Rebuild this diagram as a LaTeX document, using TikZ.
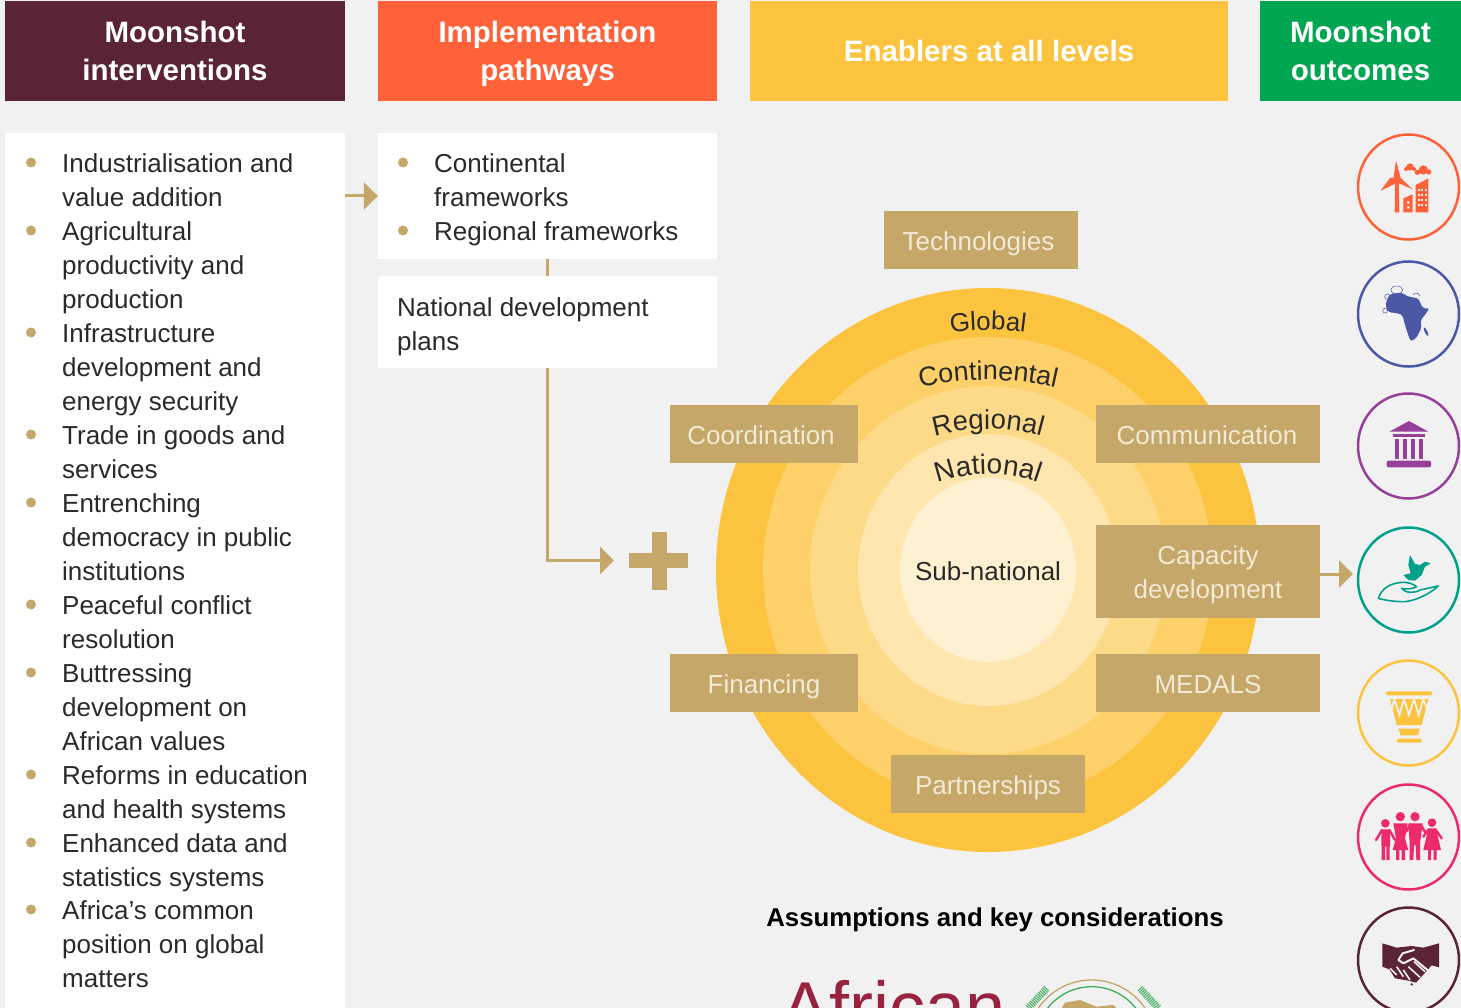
\documentclass[tikz,border=0pt]{standalone}
\usepackage{fontspec}
\setmainfont{Liberation Sans}
\usetikzlibrary{arrows.meta,decorations.text,shapes.geometric}
\definecolor{bgc}{HTML}{F1F1F1}
\definecolor{tan}{HTML}{C4A769}
\definecolor{tantext}{HTML}{F3EBD6}
\definecolor{ink}{HTML}{2A2A2A}
\definecolor{maroon}{HTML}{5A2338}
\definecolor{orng}{HTML}{FF6138}
\definecolor{gold}{HTML}{FCC33E}
\definecolor{grn}{HTML}{00A651}
\definecolor{blu}{HTML}{4A58A5}
\definecolor{purp}{HTML}{96409A}
\definecolor{teal}{HTML}{00A08A}
\definecolor{pnk}{HTML}{EE2A6E}
\definecolor{crim}{HTML}{97233F}
\definecolor{lgrn}{HTML}{3FAE5A}
\newcommand\bodyfont{\fontsize{26}{34}\selectfont}
\newcommand\curvefont[1]{\fontsize{#1}{30}\selectfont\color{ink}}
\newcommand\hfirst{\rule[0pt]{0pt}{28pt}}
\newcommand\hlast{\rule[-6pt]{0pt}{6pt}}
\newcommand\tfirst{\rule[0pt]{0pt}{27pt}}
\newcommand\tlast{\rule[-6pt]{0pt}{6pt}}
\tikzset{
  head/.style={minimum height=100pt,inner sep=0pt,text=white,align=center,
    font=\fontsize{29.5}{38}\selectfont\bfseries},
  whitebox/.style={fill=white,inner sep=0pt},
  tanbox/.style={fill=tan,inner sep=0pt,text=tantext,align=center,
    font=\fontsize{26}{34}\selectfont},
  listtext/.style={anchor=north west,inner sep=0pt,align=left,text=ink,font=\bodyfont},
  bull/.style={circle,fill=tan,minimum size=10pt,inner sep=0pt},
  ring/.style={ellipse,minimum width=101pt,minimum height=105pt,inner sep=0pt,draw,line width=2.5pt},
  conn/.style={draw=tan,line width=3pt},
  tip/.style={-{Triangle[width=27pt,length=14pt]},conn},
  iconA/.style={x=.33333pt,y=-.33333pt,xshift=1340pt,yshift=-120pt},
  iconB/.style={x=.33333pt,y=-.33333pt,xshift=1340pt,yshift=-380pt},
  iconC/.style={x=.33333pt,y=-.33333pt,xshift=1340pt,yshift=-650pt},
  logo/.style={x=.33333pt,y=-.33333pt,xshift=760pt,yshift=-890pt},
}
% name, x of bullet, x of text, first baseline, text
\newcommand\litem[5]{%
  \node[bull] (b#1) at (#2,#4-10.5) {};
  \node[listtext] (t#1) at (#3,#4-24.8) {\strut #5};
}
\newcommand\curve[5]{% radius, centre y, half angle, font size, text
  \path[decorate,decoration={text along path,text={|\curvefont{#4}|#5},text align=center}]
    ([shift={(-90-#3:#1)}]988,#2) arc[start angle=-90-#3,end angle=-90+#3,radius=#1];
}
\begin{document}
\begin{tikzpicture}[x=1pt,y=-1pt]
\clip (0,0) rectangle (1461,1008);
\fill[bgc] (0,0) rectangle (1461,1008);

% headers
\node[head,fill=maroon,minimum width=340pt] (h1) at (175,51) {\hfirst Moonshot\\interventions\hlast};
\node[head,fill=orng,minimum width=339pt] (h2) at (547.5,51) {\hfirst Implementation\\pathways\hlast};
\node[head,fill=gold,minimum width=478pt] (h3) at (989,51) {\hfirst Enablers at all levels\hlast};
\node[head,fill=grn,minimum width=201pt] (h4) at (1360.5,51) {\hfirst Moonshot\\outcomes\hlast};

% white panels
\node[whitebox,minimum width=340pt,minimum height=875pt] (left) at (175,570.5) {};
\node[whitebox,minimum width=339pt,minimum height=126pt] (path) at (547.5,196) {};
\node[whitebox,minimum width=339pt,minimum height=92pt] (nat) at (547.5,322) {};

% left list
\litem{a}{31}{62}{173}{Industrialisation and\\value addition}
\litem{b}{31}{62}{241}{Agricultural\\productivity and\\production}
\litem{c}{31}{62}{343}{Infrastructure\\development and\\energy security}
\litem{d}{31}{62}{445}{Trade in goods and\\services}
\litem{e}{31}{62}{513}{Entrenching\\democracy in public\\institutions}
\litem{f}{31}{62}{615}{Peaceful conflict\\resolution}
\litem{g}{31}{62}{683}{Buttressing\\development on\\African values}
\litem{h}{31}{62}{785}{Reforms in education\\and health systems}
\litem{i}{31}{62}{853}{Enhanced data and\\statistics systems}
\litem{j}{31}{62}{920}{Africa’s common\\position on global\\matters}

% pathways
\litem{k}{403}{434}{173}{Continental\\frameworks}
\litem{l}{403}{434}{241}{Regional frameworks}
\node[listtext] (natt) at (397,292.2) {\strut National development\\plans};

% rings
\fill[gold] (988,570) ellipse[x radius=272,y radius=282];
\fill[gold!78!white] (988,570) ellipse[x radius=225,y radius=233];
\fill[gold!62!white] (988,570) ellipse[x radius=178,y radius=184];
\fill[gold!42!white] (988,570) ellipse[x radius=130,y radius=136];
\fill[gold!24!white] (988,570) ellipse[x radius=88,y radius=92];
\curve{300}{630}{12}{26}{Global}
\curve{300}{680}{20}{27}{Continental}
\curve{200}{629}{25}{27.5}{Regional}
\curve{150}{624}{32}{28}{National}
\node[text=ink,font=\bodyfont,inner sep=0pt] (sub) at (988,571) {Sub-national};

% tan boxes
\node[tanbox,minimum width=194pt,minimum height=58pt] (tech) at (981,240) {\tfirst Technologies\kern5pt\tlast};
\node[tanbox,minimum width=188pt,minimum height=58pt] (coord) at (764,434) {\tfirst Coordination\kern6pt\tlast};
\node[tanbox,minimum width=224pt,minimum height=58pt] (comm) at (1208,434) {\tfirst Communication\kern2pt\tlast};
\node[tanbox,minimum width=224pt,minimum height=93pt] (cap) at (1208,571) {\tfirst Capacity\\development\tlast};
\node[tanbox,minimum width=188pt,minimum height=58pt] (fin) at (764,683) {\tfirst Financing\tlast};
\node[tanbox,minimum width=224pt,minimum height=58pt] (med) at (1208,683) {\tfirst MEDALS\tlast};
\node[tanbox,minimum width=194pt,minimum height=58pt] (part) at (988,784) {\tfirst Partnerships\tlast};

% outcome rings
\node[ring,draw=orng] (o1) at (1408.5,187) {};
\node[ring,draw=blu] (o2) at (1408.5,314) {};
\node[ring,draw=purp] (o3) at (1408.5,446) {};
\node[ring,draw=teal] (o4) at (1408.5,580) {};
\node[ring,draw=gold] (o5) at (1408.5,713) {};
\node[ring,draw=pnk] (o6) at (1408.5,837) {};
\node[ring,draw=maroon] (o7) at (1408.5,960) {};

% connectors
\coordinate (plus) at (659,560.5);
\draw[tip] (left.east |- path.west) -- (path.west);
\draw[conn] (path.south) -- (nat.north);
\draw[tip] (nat.south) |- ([xshift=-45pt]plus);
\draw[tip] (cap.east |- 0,574) -- (1353,574);
\fill[tan] (629,553) rectangle (688,568);
\fill[tan] (652,532) rectangle (667,590);

% title
\node[inner sep=0pt,text=black,font=\fontsize{25.8}{30}\selectfont\bfseries] (title) at (995,920) {Assumptions and key considerations};

% logo fragment
\node[anchor=base west,inner sep=0pt,text=crim,font=\fontsize{72}{80}\selectfont] (af) at (781,1032) {African};
\begin{scope}[logo]
  \draw[tan,line width=1.3pt] (995,464) circle[radius=194];
  \draw[lgrn,line width=1.3pt] (995,458) circle[radius=168];
  \fill[tan] (905,354) -- (915,338) -- (960,330) -- (1010,350) -- (1060,345) -- (1075,360) -- (905,360) -- cycle;
  \draw[lgrn,line width=7pt,dash pattern=on 1pt off 1pt] (805,354) -- (860,295);
  \draw[lgrn,line width=7pt,dash pattern=on 1pt off 1pt] (1195,354) -- (1140,295);
\end{scope}

% icon: wind and buildings
\begin{scope}[iconA,orng]
  \fill (166,180) -- (176,180) -- (178,277) -- (164,277) -- cycle;
  \fill (168,122) -- (181,170) -- (170,180) -- (161,170) -- cycle;
  \fill (122,212) -- (150,174) -- (168,172) -- (168,190) -- cycle;
  \fill (218,208) -- (178,170) -- (168,186) -- cycle;
  \fill[even odd rule] (190,235) -- (218,223) -- (218,277) -- (190,277) -- cycle
     (201,243) rectangle (208,251) (201,258) rectangle (208,266);
  \fill (227,195) -- (265,175) -- (265,277) -- (227,277) -- cycle;
  \foreach \i in {0,1,2} \foreach \j in {0,1,2,3}
     \fill[bgc] (234+\i*10,206+\j*15) rectangle ++(6,7);
  \fill (210,141) circle[radius=11] (198,147) circle[radius=6] (222,147) circle[radius=6];
  \fill (250,150) circle[radius=14] (232,157) circle[radius=8] (266,156) circle[radius=8];
\end{scope}

% icon: Africa
\begin{scope}[iconA,blu]
  \fill[rounded corners=2pt] (138,545) -- (150,522) -- (185,518) -- (205,530) -- (235,535)
     -- (248,565) -- (268,565) -- (255,585) -- (242,600) -- (244,625) -- (228,655) -- (212,664)
     -- (203,640) -- (192,605) -- (188,585) -- (165,578) -- (148,578) -- (138,565) -- cycle;
  \fill[rotate around={25:(258,635)}] (258,635) ellipse[x radius=4,y radius=14];
  \draw[line width=.5pt] (170,510) ellipse[x radius=18,y radius=12];
  \draw[line width=.5pt] (135,572) circle[radius=7];
  \draw[line width=.5pt] (218,525) arc[start angle=-150,end angle=-10,radius=12];
  \draw[line width=.5pt] (142,530) circle[radius=8];
\end{scope}

% icon: temple
\begin{scope}[iconB,purp]
  \fill (148,155) -- (207,123) -- (265,155) -- cycle;
  \fill (160,163) rectangle (255,172);
  \foreach \c in {165,190,213,238} \fill (\c,178) rectangle ++(12,60);
  \fill[rounded corners=2pt] (140,242) rectangle (273,262);
\end{scope}

% icon: dove on hand
\begin{scope}[iconB,teal]
  \fill (210,525) -- (225,552) -- (240,555) -- (255,545) -- (272,550) -- (255,560) -- (245,585)
     -- (225,602) -- (205,600) -- (190,585) -- (212,580) -- (205,555) -- cycle;
  \draw[line width=1.6pt,line join=round] (115,655) .. controls (125,625) and (150,610) .. (185,607)
     .. controls (205,606) and (220,612) .. (230,620) .. controls (215,628) and (200,628) .. (185,625)
     .. controls (195,640) and (225,640) .. (240,630) -- (295,618)
     .. controls (270,640) and (235,660) .. (195,665) .. controls (165,665) and (140,662) .. (115,655) -- cycle;
\end{scope}

% icon: drum
\begin{scope}[iconC,gold]
  \fill[rounded corners=1.5pt] (138,124) rectangle (277,136);
  \fill (150,147) -- (265,147) -- (245,225) -- (170,225) -- cycle;
  \draw[bgc,line width=1.8pt,line join=miter] (150,195) -- (163,147) -- (178,195) -- (192,147)
     -- (207,195) -- (222,147) -- (236,195) -- (250,147) -- (268,195);
  \fill (175,236) -- (240,236) -- (233,256) -- (182,256) -- cycle;
  \fill[rounded corners=1.5pt] (170,266) rectangle (245,278);
\end{scope}

% icon: family
\begin{scope}[iconC,pnk]
  \fill (136,520) circle[radius=13] (181,500) circle[radius=14] (225,500) circle[radius=14] (276,518) circle[radius=13];
  \fill[rounded corners=2pt] (124,538) rectangle (150,590);
  \fill (125,585) rectangle (135,630) (139,585) rectangle (149,630);
  \draw[line width=2.4pt,line cap=round] (126,540) -- (108,570) (148,540) -- (165,570);
  \fill (160,520) -- (203,520) -- (195,565) -- (205,600) -- (158,600) -- (168,565) -- cycle;
  \fill (168,598) rectangle (178,630) (185,598) rectangle (195,630);
  \fill (205,520) -- (248,520) -- (240,580) -- (240,630) -- (229,630) -- (227,585) -- (222,585) -- (220,630) -- (209,630) -- (209,580) -- cycle;
  \draw[line width=2.6pt,line cap=round] (210,525) -- (198,545) (242,525) -- (258,550);
  \fill (265,535) -- (288,535) -- (303,600) -- (250,600) -- cycle;
  \fill (264,598) rectangle (273,630) (281,598) rectangle (290,630);
  \draw[line width=2.4pt,line cap=round] (286,538) -- (305,565) (266,538) -- (250,560);
\end{scope}

% icon: handshake
\begin{scope}[iconC,maroon]
  \fill (127,880) -- (170,893) -- (215,888) -- (250,893) -- (297,880) -- (297,952) -- (275,946)
     -- (228,998) -- (205,992) -- (165,985) -- (148,958) -- (127,950) -- cycle;
  \draw[bgc,line width=2pt,line join=round,line cap=round] (222,900) -- (188,910) -- (175,930) -- (190,940) -- (220,925) -- (272,968);
  \draw[bgc,line width=1.6pt] (255,965) -- (222,935) (240,982) -- (205,950) (150,955) -- (170,975) (170,950) -- (190,980) (190,960) -- (210,990);
  \fill (215,1003) circle[radius=4];
\end{scope}
\end{tikzpicture}
\end{document}
